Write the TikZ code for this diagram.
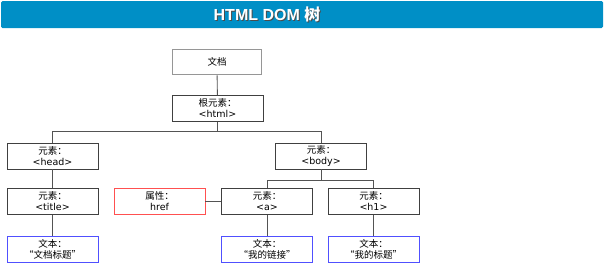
\documentclass[tikz,border=0pt]{standalone}
\usepackage{fontspec}
\setmainfont{DejaVu Sans}
\newfontfamily\cjk{Noto Sans CJK SC}
\newfontfamily\titlefont{Liberation Sans}
\usetikzlibrary{positioning,calc}

\definecolor{barblue}{RGB}{0,143,198}
\definecolor{boxgray}{RGB}{64,64,64}
\definecolor{docgray}{RGB}{150,150,150}
\definecolor{attrred}{RGB}{255,80,80}
\definecolor{textblue}{RGB}{80,80,255}

\tikzset{
  elem/.style={draw=boxgray, line width=0.9pt, fill=white,
    minimum width=91pt, minimum height=26pt, inner sep=0pt,
    align=center, font=\fontsize{9.5}{11}\selectfont, text=black},
  docbox/.style={elem, draw=docgray, line width=1.8pt, minimum width=89pt, minimum height=25pt},
  attr/.style={elem, draw=attrred},
  txt/.style={elem, draw=textblue},
  link/.style={draw=boxgray!90, line width=0.9pt}
}

\begin{document}
\begin{tikzpicture}[x=1pt,y=-1pt]
  \useasboundingbox (0,0) rectangle (604,265);

  % title bar
  \fill[barblue, rounded corners=1.5pt] (1,1) rectangle (603,28);
  \node[text=black!70, font=\titlefont\bfseries\fontsize{16}{18}\selectfont]
    (titleshadow) at (268,15.3) {HTML DOM {\cjk\bfseries 树}};
  \node[text=white, font=\titlefont\bfseries\fontsize{16}{18}\selectfont]
    (titletext) at (267,14.3) {HTML DOM {\cjk\bfseries 树}};

  % tree nodes
  \node[docbox] (doc) at (217,62) {\cjk 文档};
  \node[elem] (html) at (217.5,108.5) {{\cjk 根元素：}\\<html>};

  \node[elem] (head) at (52.5,156) {{\cjk 元素：}\\<head>};
  \node[elem] (body) at (321,156) {{\cjk 元素：}\\<body>};

  \node[elem] (title) at (52.5,201.5) {{\cjk 元素：}\\<title>};
  \node[attr] (href) at (159.5,201.5) {{\cjk 属性：}\\href};
  \node[elem] (a) at (267,201.5) {{\cjk 元素：}\\<a>};
  \node[elem] (h1) at (373.5,201.5) {{\cjk 元素：}\\<h1>};

  \node[txt] (ttitle) at (52.5,249.5) {{\cjk 文本：}\\{\cjk “文档标题”}};
  \node[txt] (ta) at (267,249.5) {{\cjk 文本：}\\{\cjk “我的链接”}};
  \node[txt] (th1) at (373.5,249.5) {{\cjk 文本：}\\{\cjk “我的标题”}};

  % connectors
  \coordinate (bus1) at ($(html.south)+(0,9.5)$);
  \coordinate (bus2) at ($(body.south)+(0,11)$);

  \draw[link] (doc) -- (html);
  \draw[link] (html) -- (bus1);
  \draw[link] (head.north) |- (bus1) -| (body.north);
  \draw[link] (body) -- (bus2);
  \draw[link] (a.north) |- (bus2) -| (h1.north);

  \foreach \p/\c in {head/title,title/ttitle,a/ta,h1/th1}
    \draw[link] (\p) -- (\c);
  \draw[link] (href) -- (a);

\end{tikzpicture}
\end{document}
